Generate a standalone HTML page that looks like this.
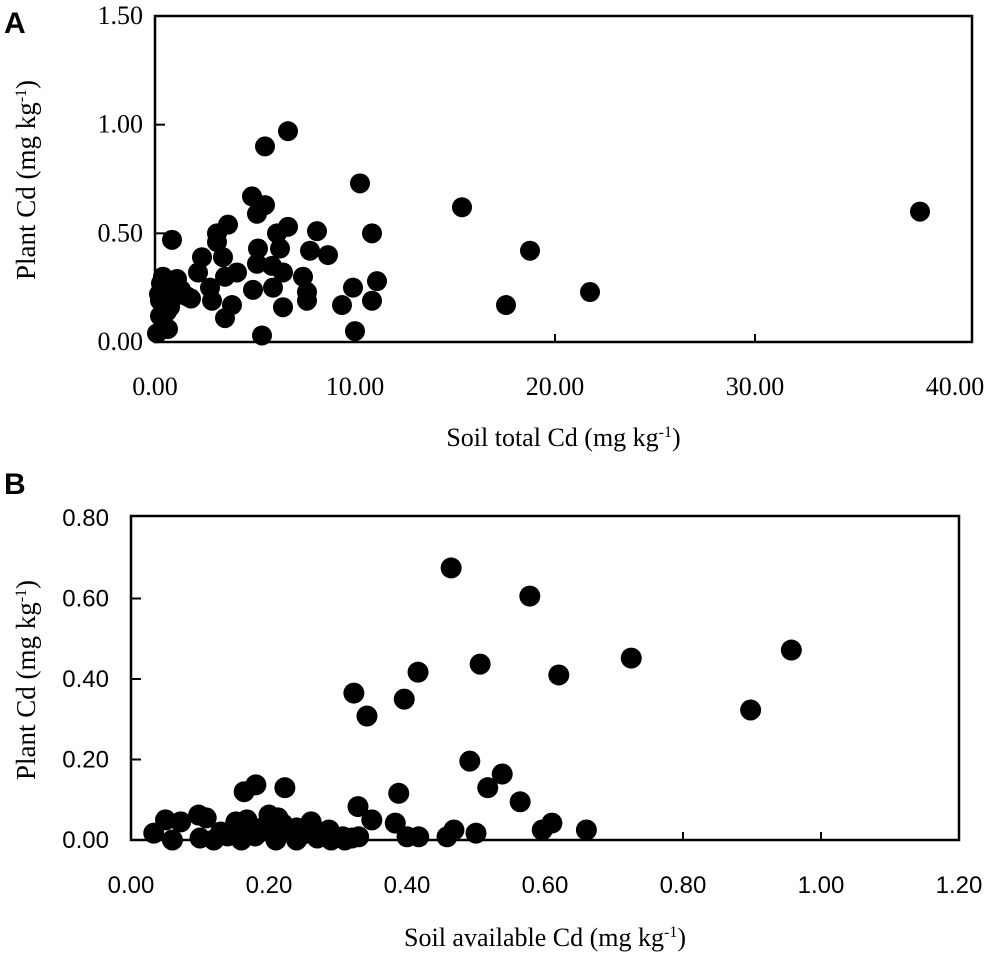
<!DOCTYPE html>
<html><head><meta charset="utf-8"><style>
body{margin:0;background:#fff;width:989px;height:959px;overflow:hidden}
svg{display:block}
.serif{font-family:"Liberation Serif",serif}
.sans{font-family:"Liberation Sans",sans-serif}
</style></head><body>
<svg id="chart" width="989" height="959"></svg>
<script>
const aXTicks=[0,10,20,30,40];
const aXTickLabels=["0.00","10.00","20.00","30.00","40.00"];
const aYTicks=[0,0.5,1.0,1.5];
const aYTickLabels=["0.00","0.50","1.00","1.50"];
const aSoilTotal=[5.5,6.65,10.25,10.85,11.1,10.85,9.35,10.0,9.9,5.35,4.85,5.5,5.1,8.1,7.75,8.65,6.65,6.1,6.25,5.15,5.1,5.85,6.4,7.4,7.6,7.6,6.4,5.9,4.9,3.65,3.1,3.1,3.4,4.1,3.5,2.35,2.15,2.75,2.85,3.85,3.5,0.85,0.4,1.1,1.6,0.25,0.75,0.25,0.65,0.1,15.35,18.75,21.75,17.55,38.25,0.5,1.3,0.2,1.8,0.6,0.3,1.0];
const aPlantCd=[0.90,0.97,0.73,0.50,0.28,0.19,0.17,0.05,0.25,0.03,0.67,0.63,0.59,0.51,0.42,0.40,0.53,0.50,0.43,0.43,0.36,0.35,0.32,0.30,0.23,0.19,0.16,0.25,0.24,0.54,0.50,0.46,0.39,0.32,0.30,0.39,0.32,0.25,0.19,0.17,0.11,0.47,0.30,0.29,0.21,0.19,0.16,0.12,0.06,0.04,0.62,0.42,0.23,0.17,0.60,0.25,0.24,0.22,0.20,0.14,0.27,0.21];
const bXTicks=[0,0.2,0.4,0.6,0.8,1.0,1.2];
const bXTickLabels=["0.00","0.20","0.40","0.60","0.80","1.00","1.20"];
const bYTicks=[0,0.2,0.4,0.6,0.8];
const bYTickLabels=["0.00","0.20","0.40","0.60","0.80"];
const bSoilAvail=[0.464,0.578,0.323,0.342,0.396,0.416,0.506,0.62,0.725,0.898,0.957,0.491,0.538,0.517,0.564,0.388,0.329,0.349,0.383,0.61,0.596,0.66,0.50,0.468,0.458,0.417,0.4,0.33,0.164,0.181,0.223,0.05,0.033,0.072,0.098,0.109,0.152,0.168,0.2,0.213,0.261,0.287,0.236,0.307,0.06,0.1,0.12,0.14,0.16,0.18,0.19,0.21,0.22,0.24,0.25,0.27,0.28,0.29,0.31,0.32,0.13,0.17,0.2,0.22,0.24];
const bPlantCd=[0.676,0.606,0.365,0.308,0.35,0.417,0.437,0.41,0.452,0.323,0.472,0.196,0.164,0.13,0.095,0.116,0.083,0.05,0.042,0.042,0.025,0.025,0.017,0.025,0.008,0.008,0.008,0.008,0.12,0.137,0.13,0.05,0.017,0.045,0.062,0.055,0.045,0.05,0.062,0.055,0.045,0.025,0.025,0.008,0.0,0.005,0.0,0.01,0.0,0.01,0.03,0.0,0.02,0.0,0.015,0.005,0.02,0.0,0.0,0.005,0.02,0.02,0.025,0.04,0.03];

const NS="http://www.w3.org/2000/svg";
const svg=document.getElementById('chart');
function mk(tag,attrs,parent){const e=document.createElementNS(NS,tag);for(const k in attrs)e.setAttribute(k,attrs[k]);(parent||svg).appendChild(e);return e;}

function panel(cfg){
  const g=mk('g',{});
  
  
  const sx=v=>cfg.L+(v-cfg.xmin)/(cfg.xmax-cfg.xmin)*(cfg.R-cfg.L);
  const sy=v=>cfg.B-(v-cfg.ymin)/(cfg.ymax-cfg.ymin)*(cfg.B-cfg.T);
  const box=mk('rect',{x:cfg.L,y:cfg.T,width:cfg.R-cfg.L,height:cfg.B-cfg.T,fill:'none',stroke:'#000','stroke-width':2.5},g);
  
  
  cfg.xt.forEach((v,i)=>{
    const x=sx(v);
    if(i>0&&i<cfg.xt.length-1){const t=mk('line',{x1:x,x2:x,y1:cfg.B,y2:cfg.B-8,stroke:'#000','stroke-width':2},g);
      
      }
    const tx=mk('text',{x:x,y:cfg.xLabY,'text-anchor':'middle','font-size':cfg.fs,class:cfg.tickFont},g);
    tx.textContent=cfg.xl[i];
    
    
  });
  cfg.yt.forEach((v,i)=>{
    const y=sy(v);
    if(i>0&&i<cfg.yt.length-1){const t=mk('line',{x1:cfg.L,x2:cfg.L+10,y1:y,y2:y,stroke:'#000','stroke-width':2},g);
      
      }
    const tx=mk('text',{x:cfg.yLabX,y:y+8,'text-anchor':'end','font-size':cfg.fs,class:cfg.tickFont},g);
    tx.textContent=cfg.yl[i];
    
    
  });
  cfg.xs.forEach((v,i)=>{
    const c=mk('circle',{cx:sx(v),cy:sy(cfg.ys[i]),r:cfg.r,fill:'#000'},g);
    
    
  });
  const xt=mk('text',{x:(cfg.L+cfg.R)/2,y:cfg.xTitleY,'text-anchor':'middle','font-size':26,class:'serif'},g);
  xt.innerHTML=cfg.xTitle+' (mg kg<tspan dy="-9" font-size="16">-1</tspan><tspan dy="9">)</tspan>';
  
  
  const cy=cfg.yTitleC;
  const yt=mk('text',{x:0,y:0,'text-anchor':'middle','font-size':27,class:'serif',transform:`translate(35,${cy}) rotate(-90)`},g);
  yt.innerHTML=cfg.yTitle+'(mg kg<tspan dy="-9" font-size="16">-1</tspan><tspan dy="9">)</tspan>';
  
  
  const pl=mk('text',{x:4,y:cfg.letterY,'font-size':30,'font-weight':'bold',class:'sans'},g);
  pl.textContent=cfg.letter;
  
  
}
panel({name:'panel-a',L:155,R:972,T:16,B:342,xmin:0,xmax:40.85,ymin:0,ymax:1.5,xt:aXTicks,xl:aXTickLabels,yt:aYTicks,yl:aYTickLabels,
  xs:aSoilTotal,ys:aPlantCd,r:10,fs:26,tickFont:'serif',xLabY:395,yLabX:143,xTitle:'Soil total Cd',yTitle:'Plant Cd  ',xTitleY:446,yTitleC:180,letter:'A',letterY:33});
panel({name:'panel-b',L:131,R:959,T:516,B:840,xmin:0,xmax:1.2,ymin:0,ymax:0.805,xt:bXTicks,xl:bXTickLabels,yt:bYTicks,yl:bYTickLabels,
  xs:bSoilAvail,ys:bPlantCd,r:10.5,fs:24,tickFont:'sans',xLabY:893,yLabX:109,xTitle:'Soil available Cd',yTitle:'Plant Cd ',xTitleY:946,yTitleC:680,letter:'B',letterY:494});
</script>
</body></html>
